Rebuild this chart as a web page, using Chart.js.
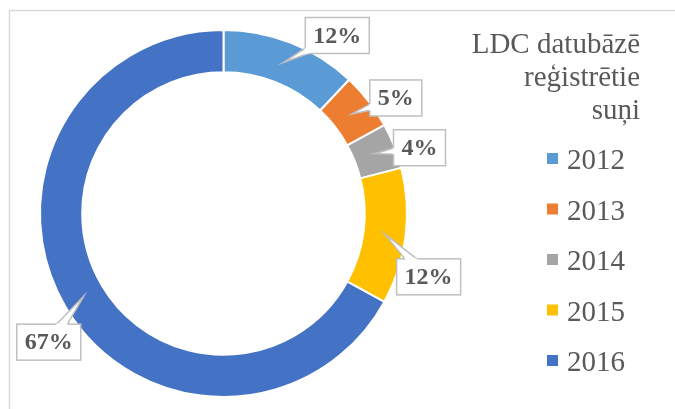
<!DOCTYPE html>
<html>
<head>
<meta charset="utf-8">
<script src="https://cdn.jsdelivr.net/npm/chart.js@4"></script>
<style>
  html, body { margin: 0; padding: 0; background: #fff; }
  #wrap { position: relative; width: 675px; height: 409px; }
</style>
</head>
<body>
<div id="wrap"><canvas id="dogsChart" width="675" height="409"></canvas></div>
<script>
// data
const years = ['2012', '2013', '2014', '2015', '2016'];
const shares = [12, 5, 4, 12, 67];
const colors = ['#5B9BD5', '#ED7D31', '#A5A5A5', '#FFC000', '#4472C4'];
const legendTitle = ['LDC datubāzē', 'reģistrētie', 'suņi'];

// where each callout box sits, relative to its arc centre
const calloutOffsets = [[54, -27], [44, -16], [45, -6], [44, 43], [-35, 46]];

const textGrey = '#595959';

// light frame on top and left edge
const framePlugin = {
    id: 'frame',
    beforeDraw(chart) {
        const ctx = chart.ctx;
        ctx.save();
        ctx.strokeStyle = '#d9d9d9';
        ctx.lineWidth = 1.5;
        ctx.beginPath();
        ctx.moveTo(9.5, 409);
        ctx.lineTo(9.5, 10.5);
        ctx.lineTo(675, 10.5);
        ctx.stroke();
        ctx.restore();
    }
};

// percentage callouts
const calloutPlugin = {
    id: 'callouts',
    afterDatasetsDraw(chart) {
        const ctx = chart.ctx;
        const arcs = chart.getDatasetMeta(0).data;
        const total = shares.reduce((a, b) => a + b, 0);
        ctx.save();
        ctx.font = 'bold 24px "Liberation Serif", "Times New Roman", serif';
        arcs.forEach((arc, i) => {
            const tip = arc.getCenterPoint();
            const txt = Math.round(shares[i] / total * 100) + '%';
            const w = ctx.measureText(txt).width + 16;
            const h = 36;
            const cx = tip.x + calloutOffsets[i][0];
            const cy = tip.y + calloutOffsets[i][1];
            const x0 = cx - w / 2, y0 = cy - h / 2;

            // wedge from the box centre to the tip
            const dx = tip.x - cx, dy = tip.y - cy;
            const len = Math.hypot(dx, dy);
            const px = -dy / len * 7, py = dx / len * 7;
            const wedge = () => {
                ctx.beginPath();
                ctx.moveTo(cx + px, cy + py);
                ctx.lineTo(tip.x, tip.y);
                ctx.lineTo(cx - px, cy - py);
            };

            ctx.fillStyle = '#fff';
            ctx.strokeStyle = '#bfbfbf';
            ctx.lineWidth = 1.5;

            ctx.fillRect(x0, y0, w, h);
            wedge();
            ctx.closePath();
            ctx.fill();
            ctx.strokeRect(x0, y0, w, h);

            // wedge sides outside the box
            ctx.save();
            ctx.beginPath();
            ctx.rect(0, 0, chart.width, chart.height);
            ctx.rect(x0 + w, y0, -w, h);
            ctx.clip('evenodd');
            wedge();
            ctx.stroke();
            ctx.restore();

            // open the box border where the wedge leaves
            ctx.save();
            ctx.beginPath();
            ctx.rect(x0 - 1, y0 - 1, w + 2, h + 2);
            ctx.clip();
            wedge();
            ctx.closePath();
            ctx.fill();
            ctx.restore();

            ctx.fillStyle = textGrey;
            ctx.textAlign = 'center';
            ctx.textBaseline = 'middle';
            ctx.fillText(txt, cx, cy + 1);
        });
        ctx.restore();
    }
};

// legend on the right with a three line title
const sideLegendPlugin = {
    id: 'sideLegend',
    afterDraw(chart) {
        const ctx = chart.ctx;
        ctx.save();
        ctx.font = '29px "Liberation Serif", "Times New Roman", serif';
        ctx.fillStyle = textGrey;
        ctx.textBaseline = 'alphabetic';
        ctx.textAlign = 'right';
        legendTitle.forEach((line, i) => {
            ctx.fillText(line, 640, 53 + i * 33);
        });
        ctx.textAlign = 'left';
        years.forEach((yr, i) => {
            const base = 169 + i * 50.5;
            ctx.fillStyle = colors[i];
            ctx.fillRect(547, base - 16, 11, 11);
            ctx.fillStyle = textGrey;
            ctx.fillText(yr, 567, base);
        });
        ctx.restore();
    }
};

const ctx = document.getElementById('dogsChart').getContext('2d');
new Chart(ctx, {
    type: 'doughnut',
    data: {
        labels: years,
        datasets: [{
            data: shares,
            backgroundColor: colors,
            borderColor: '#ffffff',
            borderWidth: 2,
            hoverBorderWidth: 2,
            hoverOffset: 0
        }]
    },
    options: {
        responsive: false,
        animation: false,
        cutout: '77%',
        layout: {
            padding: { left: 39, top: 29, right: 267, bottom: 11 }
        },
        plugins: {
            legend: { display: false },
            tooltip: { enabled: false }
        }
    },
    plugins: [framePlugin, calloutPlugin, sideLegendPlugin]
});
</script>
</body>
</html>
